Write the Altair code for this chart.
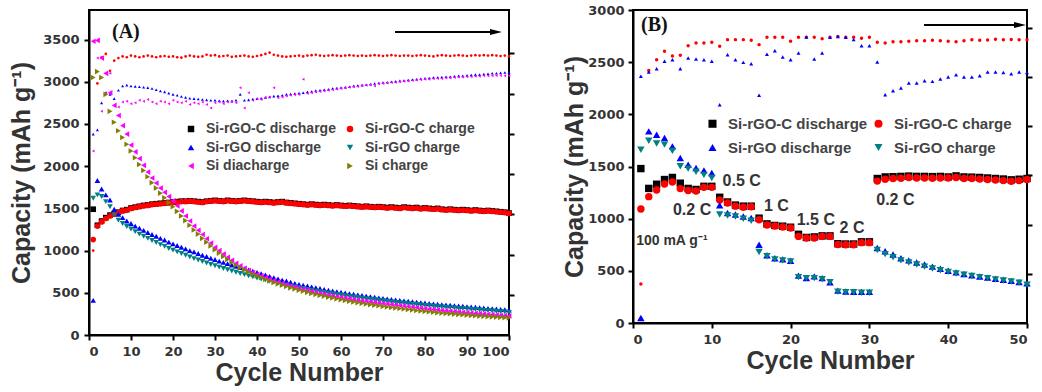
import altair as alt
import pandas as pd

# ---------------- data ----------------
series_names = ["Si-rGO-C discharge", "Si-rGO-C charge", "Si-rGO discharge",
                "Si-rGO charge", "Si diacharge", "Si charge"]
series_colors = ["#000000", "#ff0000", "#0000ff", "#008080", "#ff00ff", "#808000"]
series_shapes = ["square", "circle", "triangle-up", "triangle-down",
                 "triangle-left", "triangle-right"]

cycles_a = list(range(1, 101))
cycles_b = list(range(1, 51))

# Panel A: cycling at 100 mA g-1
a_rgoc_dis = [1490, 1300, 1350, 1390, 1420, 1440, 1455, 1475, 1485, 1505,
              1515, 1525, 1535, 1540, 1550, 1555, 1560, 1565, 1570, 1575,
              1580, 1585, 1585, 1590, 1585, 1580, 1575, 1585, 1590, 1595,
              1590, 1585, 1595, 1590, 1585, 1590, 1595, 1590, 1585, 1580,
              1575, 1580, 1575, 1570, 1575, 1580, 1570, 1565, 1560, 1555,
              1550, 1545, 1550, 1545, 1540, 1545, 1540, 1535, 1540, 1535,
              1530, 1535, 1530, 1525, 1520, 1525, 1520, 1515, 1520, 1515,
              1510, 1515, 1510, 1505, 1515, 1510, 1505, 1510, 1500, 1505,
              1500, 1495, 1500, 1490, 1485, 1490, 1485, 1480, 1485, 1480,
              1475, 1480, 1475, 1470, 1475, 1470, 1465, 1460, 1455, 1445]
a_rgoc_chg = [1130, 1290, 1340, 1380, 1410, 1430, 1450, 1470, 1480, 1500,
              1510, 1520, 1530, 1535, 1545, 1550, 1555, 1560, 1565, 1570,
              1575, 1580, 1580, 1585, 1580, 1575, 1570, 1580, 1585, 1590,
              1585, 1580, 1590, 1585, 1580, 1585, 1590, 1585, 1580, 1575,
              1570, 1575, 1570, 1565, 1570, 1575, 1565, 1560, 1555, 1550,
              1545, 1540, 1545, 1540, 1535, 1540, 1535, 1530, 1535, 1530,
              1525, 1530, 1525, 1520, 1515, 1520, 1515, 1510, 1515, 1510,
              1505, 1510, 1505, 1500, 1510, 1505, 1500, 1505, 1495, 1500,
              1495, 1490, 1495, 1485, 1480, 1485, 1480, 1475, 1480, 1475,
              1470, 1475, 1470, 1465, 1470, 1465, 1460, 1455, 1450, 1440]
a_rgo_dis = [410, 1830, 1730, 1660, 1600, 1490, 1430, 1390, 1350, 1320,
             1290, 1265, 1240, 1215, 1190, 1170, 1145, 1125, 1100, 1080,
             1060, 1040, 1020, 1000, 985, 965, 945, 930, 910, 895,
             875, 860, 845, 830, 815, 800, 785, 770, 755, 740,
             725, 710, 695, 680, 665, 650, 640, 625, 612, 600,
             590, 580, 570, 560, 550, 540, 530, 522, 514, 506,
             498, 490, 482, 475, 468, 461, 454, 447, 440, 434,
             428, 422, 416, 410, 404, 399, 394, 389, 384, 379,
             374, 369, 364, 360, 356, 352, 348, 344, 340, 336,
             332, 328, 324, 320, 316, 312, 308, 304, 300, 296]
a_rgo_chg = [1620, 1660, 1640, 1580, 1520, 1420, 1360, 1320, 1285, 1255,
             1225, 1195, 1170, 1145, 1120, 1095, 1070, 1050, 1025, 1005,
             985, 965, 945, 925, 905, 888, 870, 853, 836, 820,
             804, 788, 773, 758, 743, 729, 715, 701, 688, 675,
             662, 650, 638, 626, 614, 603, 592, 581, 571, 561,
             551, 541, 532, 523, 514, 505, 497, 489, 481, 473,
             465, 458, 451, 444, 437, 430, 423, 417, 411, 405,
             399, 393, 387, 381, 376, 371, 366, 361, 356, 351,
             346, 341, 336, 332, 328, 324, 320, 316, 312, 308,
             304, 300, 296, 292, 288, 284, 280, 276, 272, 268]
a_si_dis = [3480, 3490, 3280, 3100, 2870, 2720, 2600, 2480, 2380, 2250,
            2170, 2090, 2010, 1930, 1860, 1800, 1740, 1690, 1640, 1590,
            1530, 1470, 1410, 1350, 1290, 1240, 1190, 1140, 1090, 1040,
            1000, 960, 920, 885, 850, 820, 790, 765, 740, 720,
            700, 680, 662, 645, 628, 612, 596, 581, 567, 554,
            541, 529, 517, 506, 495, 485, 475, 465, 456, 447,
            438, 430, 422, 414, 407, 400, 393, 386, 380, 374,
            368, 362, 356, 350, 344, 338, 332, 326, 320, 314,
            308, 303, 298, 293, 288, 283, 278, 274, 270, 266,
            262, 258, 254, 250, 246, 242, 238, 234, 230, 226]
a_si_chg = [3050, 3120, 3050, 2850, 2650, 2520, 2420, 2340, 2260, 2180,
            2100, 2020, 1950, 1875, 1805, 1740, 1680, 1625, 1570, 1520,
            1465, 1410, 1355, 1300, 1245, 1195, 1145, 1100, 1055, 1010,
            970, 930, 895, 860, 828, 798, 770, 745, 722, 700,
            680, 660, 641, 623, 606, 590, 574, 559, 545, 531,
            518, 505, 493, 481, 470, 459, 448, 438, 428, 418,
            409, 400, 391, 383, 375, 367, 360, 353, 346, 339,
            332, 326, 320, 314, 308, 302, 296, 290, 285, 280,
            275, 270, 265, 260, 256, 252, 248, 244, 240, 236,
            232, 228, 224, 221, 218, 215, 212, 209, 206, 203]
# coulombic-efficiency dots of panel A (read in capacity-axis units)
a_eff_rgoc = [1000, 2980, 3290, 3330, 3130, 3250, 3280, 3300, 3290, 3310,
              3300, 3290, 3300, 3310, 3300, 3290, 3300, 3305, 3295, 3300,
              3290, 3285, 3300, 3310, 3300, 3295, 3300, 3320, 3310, 3315,
              3300, 3305, 3310, 3295, 3300, 3305, 3310, 3300, 3295, 3305,
              3315, 3330, 3345, 3320, 3310, 3300, 3295, 3300, 3305, 3310,
              3300, 3310, 3315, 3320, 3310, 3305, 3310, 3315, 3310, 3305,
              3310, 3315, 3310, 3305, 3310, 3305, 3310, 3315, 3310, 3305,
              3310, 3315, 3310, 3305, 3310, 3310, 3305, 3310, 3315, 3310,
              3305, 3300, 3310, 3315, 3310, 3305, 3310, 3315, 3310, 3305,
              3310, 3315, 3310, 3315, 3310, 3315, 3310, 3305, 3310, 3300]
a_eff_rgo = [2380, 2430, 2750, 2870, 2850, 2800, 2900, 2950, 2960, 2950,
             2945, 2940, 2935, 2930, 2920, 2905, 2890, 2880, 2865, 2850,
             2840, 2825, 2815, 2805, 2800, 2795, 2790, 2785, 2780, 2780,
             2775, 2770, 2775, 2770, 2780, 2850, 2780, 2785, 2795, 2800,
             2805, 2815, 2820, 2830, 2835, 2840, 2850, 2855, 2860, 2865,
             2870, 2880, 2885, 2895, 2900, 2905, 2910, 2920, 2925, 2930,
             2935, 2940, 2950, 2955, 2960, 2965, 2970, 2980, 2985, 2990,
             2995, 3000, 3005, 3010, 3015, 3020, 3025, 3030, 3035, 3040,
             3045, 3050, 3050, 3055, 3060, 3060, 3065, 3070, 3070, 3075,
             3080, 3085, 3085, 3090, 3095, 3100, 3100, 3105, 3110, 3110]
a_eff_si = [2180, 3280, 2650, 2870, 3100, 2720, 2700, 2760, 2770, 2740,
            2750, 2780, 2770, 2790, 2760, 2740, 2770, 2760, 2740, 2780,
            2760, 2750, 2770, 2730, 2750, 2740, 2760, 2730, 2690, 2750,
            2760, 2740, 2760, 2770, 2750, 2930, 2690, 2870, 2780, 2800,
            2790, 2810, 2820, 2930, 2810, 2820, 2830, 2840, 2845, 2850,
            3030, 2860, 2870, 2880, 2885, 2890, 2900, 2905, 2915, 2920,
            2925, 2935, 2940, 2945, 2955, 2960, 2965, 2950, 2975, 2980,
            2985, 2990, 2995, 3000, 3005, 3010, 3015, 3020, 3025, 3030,
            3030, 3035, 3040, 3040, 3045, 3045, 3050, 3055, 3055, 3060,
            3060, 3065, 3065, 3070, 3070, 3070, 3075, 3075, 3070, 3070]

# Panel B: rate capability
b_rgoc_dis = [1480, 1290, 1330, 1375, 1395, 1340, 1290, 1280, 1310, 1310,
              1205, 1160, 1130, 1120, 1120, 1005, 950, 935, 928, 918,
              850, 820, 825, 835, 835, 760, 757, 757, 778, 778,
              1385, 1400, 1402, 1405, 1408, 1405, 1405, 1403, 1405, 1400,
              1410, 1400, 1398, 1395, 1390, 1385, 1380, 1372, 1378, 1385]
b_rgoc_chg = [1093, 1211, 1275, 1332, 1351, 1288, 1270, 1265, 1300, 1300,
              1180, 1150, 1120, 1110, 1115, 990, 940, 930, 920, 910,
              830, 815, 815, 830, 830, 752, 750, 750, 770, 770,
              1360, 1378, 1385, 1388, 1395, 1390, 1390, 1388, 1390, 1390,
              1395, 1385, 1385, 1380, 1375, 1370, 1365, 1358, 1365, 1375]
b_rgo_dis = [48, 1837, 1805, 1773, 1693, 1581, 1517, 1485, 1463, 1438,
             1128, 1054, 1040, 1020, 1006, 750, 649, 620, 610, 597,
             454, 430, 447, 430, 390, 310, 302, 300, 298, 298,
             719, 687, 656, 620, 600, 580, 560, 540, 520, 500,
             485, 470, 458, 446, 435, 424, 414, 404, 392, 380]
b_rgo_chg = [1661, 1747, 1720, 1710, 1650, 1502, 1480, 1450, 1420, 1390,
             1040, 1030, 1020, 1000, 980, 680, 640, 610, 600, 590,
             440, 430, 430, 420, 390, 300, 295, 295, 290, 290,
             700, 660, 630, 600, 580, 560, 540, 522, 506, 490,
             475, 462, 450, 440, 430, 418, 408, 398, 386, 368]
b_eff_rgoc = [374, 2420, 2524, 2604, 2560, 2566, 2658, 2684, 2684, 2690,
              2652, 2716, 2716, 2716, 2710, 2668, 2738, 2738, 2738, 2700,
              2738, 2738, 2738, 2725, 2738, 2745, 2740, 2738, 2730, 2738,
              2690, 2684, 2695, 2695, 2700, 2705, 2705, 2710, 2705, 2700,
              2695, 2705, 2715, 2710, 2712, 2720, 2715, 2718, 2715, 2715]
b_eff_rgo = [2364, 2406, 2437, 2508, 2524, 2437, 2540, 2530, 2524, 2508,
             2092, 2572, 2524, 2498, 2485, 2182, 2575, 2610, 2550, 2524,
             2588, 2740, 2530, 2588, 2738, 2745, 2738, 2716, 2658, 2658,
             2502, 2188, 2227, 2252, 2300, 2300, 2322, 2316, 2338, 2358,
             2380, 2358, 2358, 2370, 2406, 2406, 2400, 2390, 2406, 2400]

# rate labels in panel B (cycle, capacity)
ann_text = ["0.2 C", "0.5 C", "1 C", "1.5 C", "2 C", "0.2 C"]
ann_cycle = [7.5, 13.8, 18.2, 23.2, 27.8, 33.3]
ann_cap = [1083, 1361, 1121, 987, 910, 1179]
cur_text = ["100 mA g⁻¹"]
cur_cycle = [0.4]
cur_cap = [786]

# ---------------- tables ----------------
def long_table(cycles, names, arrays):
    rows = []
    for n, arr in zip(names, arrays):
        for c, v in zip(cycles, arr):
            rows.append({"cycle": c, "cap": v, "series": n})
    return pd.DataFrame(rows)

df_a = long_table(cycles_a, series_names,
                  [a_rgoc_dis, a_rgoc_chg, a_rgo_dis, a_rgo_chg, a_si_dis, a_si_chg])
df_b = long_table(cycles_b, series_names[:4],
                  [b_rgoc_dis, b_rgoc_chg, b_rgo_dis, b_rgo_chg])

def xy_table(cycles, vals):
    return pd.DataFrame({"cycle": cycles, "cap": vals})

one = pd.DataFrame({"k": [0]})

TITLE_FONT = "Liberation Sans"
LABEL_FONT = "DejaVu Sans"
TXT = "#333333"


def panel(df, effs, xmax, ymax, yvals, legend_pos, legend_font,
          legend_row, legend_col, msize, letter, letter_x, arrow,
          ytitle_pad, ylabel_pad):
    names = list(dict.fromkeys(df["series"]))
    idx = [series_names.index(n) for n in names]
    x = alt.X("cycle:Q", scale=alt.Scale(domain=[0, xmax], nice=False, zero=False),
              axis=alt.Axis(values=list(range(0, xmax + 1, 10)), title="Cycle Number",
                            format="d", labelPadding=5, titlePadding=2))
    y = alt.Y("cap:Q", scale=alt.Scale(domain=[0, ymax], nice=False),
              axis=alt.Axis(values=yvals, title="Capacity (mAh g⁻¹)", format="d",
                            titlePadding=ytitle_pad, labelPadding=ylabel_pad))
    leg = alt.Legend(orient="none", legendX=legend_pos[0], legendY=legend_pos[1],
                     columns=2, direction="horizontal", title=None,
                     labelFont=TITLE_FONT,
                     labelFontSize=legend_font, labelFontWeight="bold",
                     labelColor="#444444", symbolSize=msize + 10,
                     symbolStrokeWidth=0, rowPadding=legend_row,
                     columnPadding=legend_col, labelOffset=8, labelLimit=300)
    layers = []
    for (vals, color, shape, sz) in effs:
        layers.append(
            alt.Chart(xy_table(list(range(1, len(vals) + 1)), vals))
            .mark_point(filled=True, opacity=1, color=color, shape=shape, size=sz)
            .encode(x=x, y=y))
    pts = alt.Chart(df).mark_point(filled=True, opacity=1, size=msize).encode(
        x=x, y=y,
        color=alt.Color("series:N", sort=names,
                        scale=alt.Scale(domain=names, range=[series_colors[i] for i in idx]),
                        legend=leg),
        shape=alt.Shape("series:N", sort=names,
                        scale=alt.Scale(domain=names, range=[series_shapes[i] for i in idx]),
                        legend=leg),
    )
    layers.append(pts)
    # panel letter
    layers.append(alt.Chart(one).mark_text(text=letter, font="Liberation Serif",
                                           fontWeight="bold", fontSize=20, align="left",
                                           baseline="middle", color="#111111")
                  .encode(x=alt.value(letter_x), y=alt.value(arrow[2])))
    # arrow
    layers.append(alt.Chart(one).mark_rule(color="black", strokeWidth=2)
                  .encode(x=alt.value(arrow[0]), x2=alt.value(arrow[1] - 6),
                          y=alt.value(arrow[2])))
    layers.append(alt.Chart(one).mark_point(shape="M-1,-0.5L1,0L-1,0.5Z", filled=True,
                                            color="black", opacity=1, size=144)
                  .encode(x=alt.value(arrow[1] - 6), y=alt.value(arrow[2])))
    return layers, x, y


layers_a, xa, ya = panel(
    df_a,
    [(a_eff_rgoc, "#ff0000", "circle", 7),
     (a_eff_rgo, "#0000ff", "triangle-up", 9),
     (a_eff_si, "#ff00ff", "triangle-left", 9)],
    100, 3850, list(range(0, 3501, 500)), (95, 112), 14, 4.5, 7, 32,
    "(A)", 23, (306, 413, 22), 8, 5)

layers_b, xb, yb = panel(
    df_b,
    [(b_eff_rgoc, "#ff0000", "circle", 12),
     (b_eff_rgo, "#0000ff", "triangle-up", 16)],
    50, 3000, list(range(0, 3001, 500)), (72, 106), 15, 8, 3, 55,
    "(B)", 8, (291, 393, 15), 0, 4)

# annotations in panel B
ann_df = pd.DataFrame({"t": ann_text, "cycle": ann_cycle, "cap": ann_cap})
cur_df = pd.DataFrame({"t": cur_text, "cycle": cur_cycle, "cap": cur_cap})
layers_b.append(alt.Chart(ann_df).mark_text(font=TITLE_FONT, fontWeight="bold",
                                            fontSize=16, color=TXT, align="center",
                                            baseline="middle")
                .encode(x=xb, y=yb, text="t:N"))
layers_b.append(alt.Chart(cur_df).mark_text(font=TITLE_FONT, fontWeight="bold",
                                            fontSize=14, color=TXT, align="left",
                                            baseline="middle")
                .encode(x=xb, y=yb, text="t:N"))


def right_axis(dom, vals):
    return alt.Chart(one).mark_point(opacity=0).encode(
        y=alt.Y("k:Q", scale=alt.Scale(domain=dom, nice=False, zero=False),
                axis=alt.Axis(orient="right", values=vals, labels=False, title=None,
                              domain=False, ticks=True, tickSize=5)))

main_a = alt.layer(*layers_a)
panel_a = alt.layer(main_a, right_axis([0, 8.08], [1, 2, 3, 4, 5, 6, 7])) \
    .resolve_scale(y="independent").properties(width=420, height=325)
main_b = alt.layer(*layers_b)
panel_b = alt.layer(main_b, right_axis([0, 6.36], [1, 2, 3, 4, 5, 6])) \
    .resolve_scale(y="independent").properties(width=394, height=313)

chart = alt.hconcat(panel_a, panel_b, spacing=45).resolve_scale(
    color="independent", shape="independent"
).properties(
    padding={"left": 8, "top": 3, "right": 0, "bottom": 0},
    background="white",
).configure_view(
    stroke="black", strokeWidth=2
).configure_axis(
    grid=False, domainColor="black", domainWidth=2, tickColor="black",
    tickWidth=2, tickSize=5, labelFont=LABEL_FONT, labelFontSize=13,
    labelFontWeight="bold", labelColor=TXT, titleFont=TITLE_FONT,
    titleFontSize=25, titleFontWeight="bold", titleColor=TXT,
)

chart.save("out.html", embed_options={"renderer": "svg", "actions": False})
